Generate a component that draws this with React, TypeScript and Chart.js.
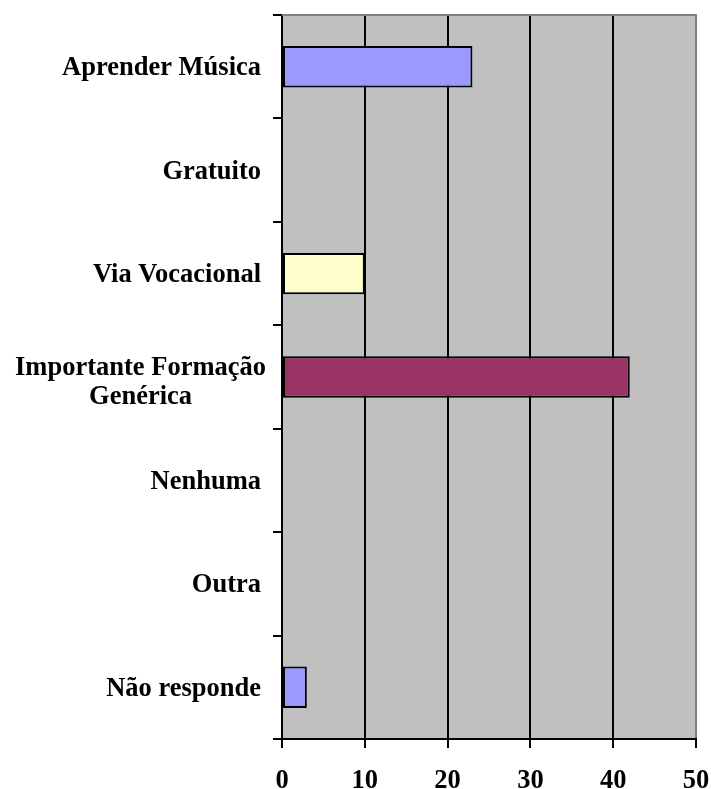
import React, { useEffect, useRef } from "react";
import { Chart, registerables } from "chart.js";

Chart.register(...registerables);

const categories: string[][] = [
  ["Aprender Música"],
  ["Gratuito"],
  ["Via Vocacional"],
  ["Importante Formação", "Genérica"],
  ["Nenhuma"],
  ["Outra"],
  ["Não responde"],
];
const values: number[] = [23, 0, 10, 42, 0, 0, 3];
const barColors: string[] = ["#9999FF", "#9999FF", "#FFFFCC", "#993366", "#9999FF", "#9999FF", "#9999FF"];
const xMin = 0;
const xMax = 50;
const xStep = 10;

const FONT_FAMILY = '"Liberation Serif", "Times New Roman", serif';
const FONT_SIZE = 26.5;

const chartDecor = {
  id: "chartDecor",
  beforeDraw(chart: any) {
    const { ctx, chartArea } = chart;
    ctx.save();
    ctx.fillStyle = "#C0C0C0";
    ctx.fillRect(chartArea.left, chartArea.top, chartArea.right - chartArea.left, chartArea.bottom - chartArea.top);
    ctx.restore();
  },
  afterDraw(chart: any) {
    const { ctx, chartArea } = chart;
    const yScale = chart.scales.y;
    ctx.save();
    ctx.strokeStyle = "#808080";
    ctx.lineWidth = 2;
    ctx.beginPath();
    ctx.moveTo(chartArea.left, chartArea.top);
    ctx.lineTo(chartArea.right + 1, chartArea.top);
    ctx.stroke();
    ctx.fillStyle = "#000000";
    ctx.font = `bold ${FONT_SIZE}px ${FONT_FAMILY}`;
    ctx.textAlign = "center";
    ctx.textBaseline = "alphabetic";
    const lineH = 29;
    const capHalf = 8.6;
    categories.forEach((lines, i) => {
      const rightX = chartArea.left - (lines.length > 1 ? 16 : 21);
      const cy = yScale.getPixelForValue(i);
      const maxW = Math.max(...lines.map((l) => ctx.measureText(l).width));
      const cx = rightX - maxW / 2;
      lines.forEach((l, j) => {
        const by = cy + capHalf + (j - (lines.length - 1) / 2) * lineH + (lines.length > 1 ? 4 : 0);
        ctx.fillText(l, cx, by);
      });
    });
    ctx.restore();
  },
};

export default function App() {
  const canvasRef = useRef<HTMLCanvasElement | null>(null);

  useEffect(() => {
    if (!canvasRef.current) return;
    const chart = new Chart(canvasRef.current, {
      type: "bar",
      data: {
        labels: categories.map((c) => c.join(" ")),
        datasets: [
          {
            data: values,
            backgroundColor: barColors,
            borderColor: "#000000",
            borderWidth: 2,
            borderSkipped: false,
            barPercentage: 0.4,
            categoryPercentage: 1,
          },
        ],
      },
      options: {
        indexAxis: "y",
        responsive: false,
        animation: false,
        devicePixelRatio: 1,
        layout: { padding: { top: 15, right: 15, left: 0, bottom: 0 } },
        plugins: {
          legend: { display: false },
          tooltip: { enabled: false },
          title: { display: false },
        },
        scales: {
          x: {
            type: "linear",
            position: "bottom",
            min: xMin,
            max: xMax,
            ticks: {
              stepSize: xStep,
              color: "#000000",
              padding: 17,
              font: { family: FONT_FAMILY, size: FONT_SIZE, weight: "bold" },
            },
            grid: {
              color: (ctx: any) => (ctx.tick && ctx.tick.value === xMax ? "#808080" : "#000000"),
              tickColor: "#000000",
              lineWidth: 2,
              tickLength: 9,
              drawTicks: true,
            },
            border: { display: true, color: "#000000", width: 2 },
            afterFit: (scale: any) => {
              scale.height = 50;
              scale.paddingLeft = 0;
              scale.paddingRight = 0;
            },
          },
          y: {
            type: "category",
            offset: true,
            ticks: { display: false },
            grid: {
              offset: true,
              drawOnChartArea: false,
              drawTicks: true,
              tickLength: 9,
              color: "#000000",
              lineWidth: 2,
            },
            border: { display: true, color: "#000000", width: 2 },
            afterFit: (scale: any) => {
              scale.width = 282;
              scale.paddingTop = 0;
              scale.paddingBottom = 0;
            },
          },
        },
      },
      plugins: [chartDecor],
    });
    return () => chart.destroy();
  }, []);

  return (
    <div style={{ position: "absolute", left: 0, top: 0, width: 711, height: 789, background: "#ffffff" }}>
      <canvas ref={canvasRef} width={711} height={789} style={{ display: "block" }} />
    </div>
  );
}
